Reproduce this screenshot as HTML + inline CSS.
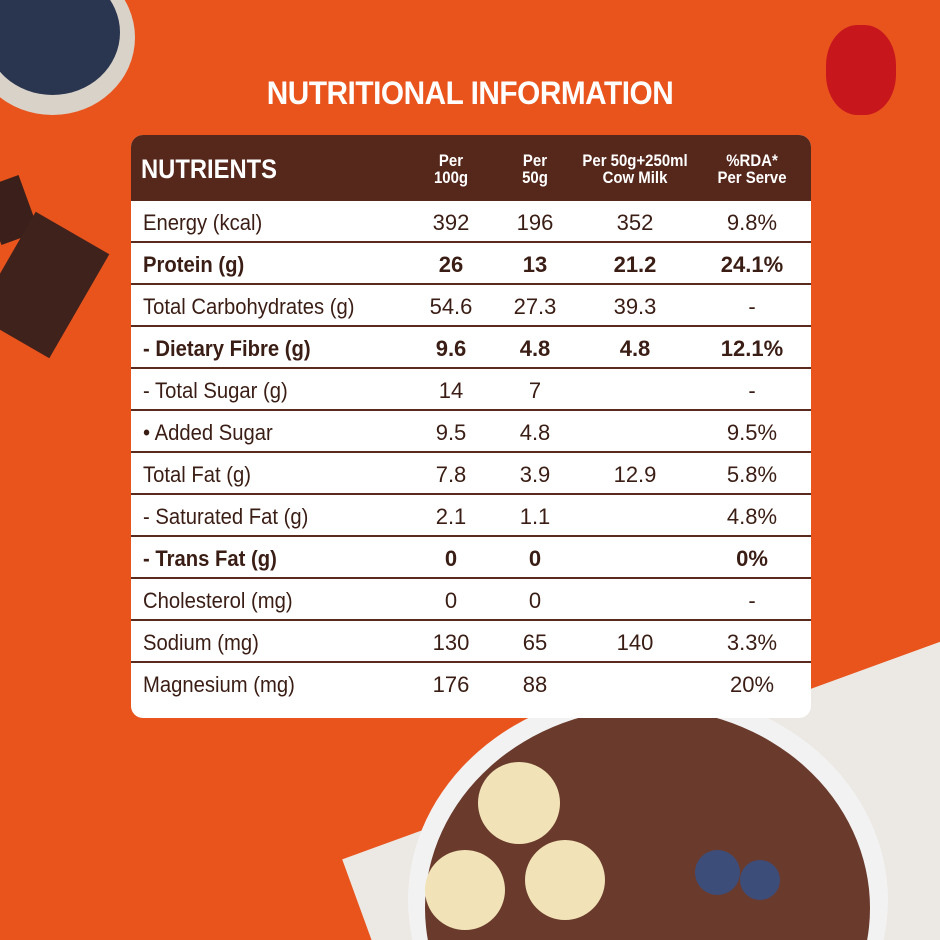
<!DOCTYPE html>
<html style="width:940px;height:940px;overflow:hidden"><head><style>
body{margin:0;width:940px;height:940px;overflow:hidden;background:#e9541d;position:relative;font-family:"Liberation Sans",sans-serif;}
.abs{position:absolute}
#title{left:0;width:940px;top:75px;text-align:center;color:#fff;font-weight:bold;font-size:32px;letter-spacing:-0.5px;transform:scaleX(0.93)}
#tbl{left:131px;top:135px;width:680px;height:583px;background:#fff;border-radius:12px;overflow:hidden}
#hd{position:absolute;left:0;top:0;width:680px;height:66px;background:#56271b}
.h{position:absolute;color:#fff;font-weight:bold;text-align:center;font-size:17px;line-height:17px;transform:scaleX(0.88)}
.row{position:absolute;left:0;width:680px;height:40px;border-bottom:2px solid #5a2a1e;color:#3a1d14;font-size:22px;line-height:44px}
.row span{position:absolute;text-align:center;width:100px}
.row .l{left:12px;text-align:left;width:300px;transform:scaleX(0.92);transform-origin:left}
.b{font-weight:bold}
</style></head><body>
<div class="abs" style="left:-30px;top:-40px;width:165px;height:155px;border-radius:50%;background:#d9d2c8"></div>
<div class="abs" style="left:-15px;top:-30px;width:135px;height:125px;border-radius:50%;background:#2a3550"></div>
<div class="abs" style="left:-10px;top:180px;width:40px;height:60px;background:#3a1f1a;transform:rotate(-20deg)"></div>
<div class="abs" style="left:0px;top:225px;width:85px;height:120px;background:#3f221c;transform:rotate(30deg)"></div>
<div class="abs" style="left:826px;top:25px;width:70px;height:90px;border-radius:45%;background:#c8161d"></div>
<div class="abs" style="left:340px;top:600px;width:620px;height:340px;overflow:hidden">
<div class="abs" style="left:0;top:0;width:700px;height:600px;background:#ece8e3;transform:rotate(-20deg);transform-origin:right top;left:-40px;top:20px"></div></div>
<div class="abs" style="left:408px;top:690px;width:480px;height:250px;overflow:hidden">
<div class="abs" style="left:0;top:0;width:480px;height:420px;border-radius:50%;background:#f2f2f2"></div>
<div class="abs" style="left:17px;top:18px;width:445px;height:400px;border-radius:50%;background:#6a3a2c"></div>
<div class="abs" style="left:17px;top:160px;width:80px;height:80px;border-radius:50%;background:#f1e3b7"></div>
<div class="abs" style="left:117px;top:150px;width:80px;height:80px;border-radius:50%;background:#f1e3b7"></div>
<div class="abs" style="left:70px;top:72px;width:82px;height:82px;border-radius:50%;background:#f1e3b7"></div>
<div class="abs" style="left:287px;top:160px;width:45px;height:45px;border-radius:50%;background:#3d4d7a"></div>
<div class="abs" style="left:332px;top:170px;width:40px;height:40px;border-radius:50%;background:#3d4d7a"></div>
</div>
<div id="title" class="abs">NUTRITIONAL INFORMATION</div>
<div id="tbl" class="abs">
<div id="hd">
<div class="h" style="left:10px;top:20px;font-size:27px;line-height:28px;text-align:left;transform-origin:left">NUTRIENTS</div>
<div class="h" style="left:270px;width:100px;top:17px">Per<br>100g</div>
<div class="h" style="left:354px;width:100px;top:17px">Per<br>50g</div>
<div class="h" style="left:434px;width:140px;top:17px">Per 50g+250ml<br>Cow Milk</div>
<div class="h" style="left:571px;width:100px;top:17px">%RDA*<br>Per Serve</div>
</div>
<div class="row" style="top:66px"><span class="l">Energy (kcal)</span><span style="left:270px">392</span><span style="left:354px">196</span><span style="left:454px">352</span><span style="left:571px">9.8%</span></div>
<div class="row b" style="top:108px"><span class="l">Protein (g)</span><span style="left:270px">26</span><span style="left:354px">13</span><span style="left:454px">21.2</span><span style="left:571px">24.1%</span></div>
<div class="row" style="top:150px"><span class="l">Total Carbohydrates (g)</span><span style="left:270px">54.6</span><span style="left:354px">27.3</span><span style="left:454px">39.3</span><span style="left:571px">-</span></div>
<div class="row b" style="top:192px"><span class="l">- Dietary Fibre (g)</span><span style="left:270px">9.6</span><span style="left:354px">4.8</span><span style="left:454px">4.8</span><span style="left:571px">12.1%</span></div>
<div class="row" style="top:234px"><span class="l">- Total Sugar (g)</span><span style="left:270px">14</span><span style="left:354px">7</span><span style="left:571px">-</span></div>
<div class="row" style="top:276px"><span class="l">• Added Sugar</span><span style="left:270px">9.5</span><span style="left:354px">4.8</span><span style="left:571px">9.5%</span></div>
<div class="row" style="top:318px"><span class="l">Total Fat (g)</span><span style="left:270px">7.8</span><span style="left:354px">3.9</span><span style="left:454px">12.9</span><span style="left:571px">5.8%</span></div>
<div class="row" style="top:360px"><span class="l">- Saturated Fat (g)</span><span style="left:270px">2.1</span><span style="left:354px">1.1</span><span style="left:571px">4.8%</span></div>
<div class="row b" style="top:402px"><span class="l">- Trans Fat (g)</span><span style="left:270px">0</span><span style="left:354px">0</span><span style="left:571px">0%</span></div>
<div class="row" style="top:444px"><span class="l">Cholesterol (mg)</span><span style="left:270px">0</span><span style="left:354px">0</span><span style="left:571px">-</span></div>
<div class="row" style="top:486px"><span class="l">Sodium (mg)</span><span style="left:270px">130</span><span style="left:354px">65</span><span style="left:454px">140</span><span style="left:571px">3.3%</span></div>
<div class="row" style="top:528px;border-bottom:none"><span class="l">Magnesium (mg)</span><span style="left:270px">176</span><span style="left:354px">88</span><span style="left:571px">20%</span></div>
</div>
</body></html>
